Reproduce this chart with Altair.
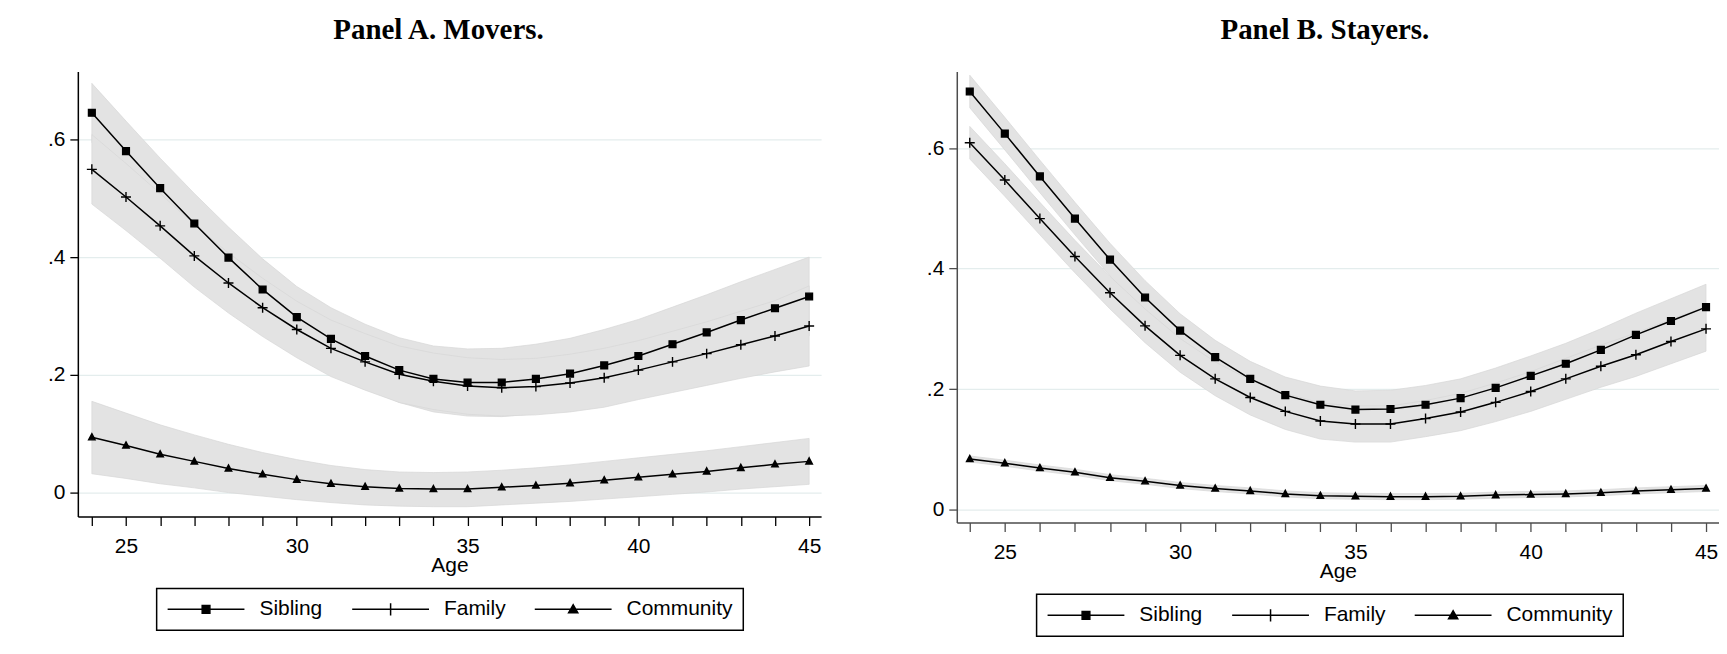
import altair as alt
import pandas as pd

AGES = list(range(24, 46))
SERIES = ["Sibling", "Family", "Community"]

# ---------------- Panel A. Movers ----------------
A_SIB = [0.645, 0.580, 0.517, 0.457, 0.399, 0.345, 0.298, 0.261, 0.232, 0.208, 0.193,
         0.187, 0.187, 0.193, 0.202, 0.216, 0.232, 0.252, 0.272, 0.293, 0.313, 0.333]
A_SIB_HI = [0.695, 0.631, 0.568, 0.508, 0.451, 0.397, 0.350, 0.314, 0.286, 0.263, 0.249,
            0.244, 0.245, 0.252, 0.262, 0.277, 0.294, 0.315, 0.336, 0.358, 0.379, 0.400]
A_SIB_LO = [0.595, 0.529, 0.466, 0.406, 0.347, 0.293, 0.246, 0.208, 0.178, 0.153, 0.137,
            0.130, 0.129, 0.134, 0.142, 0.155, 0.170, 0.189, 0.208, 0.228, 0.247, 0.266]
A_FAM = [0.549, 0.502, 0.453, 0.402, 0.356, 0.314, 0.277, 0.245, 0.222, 0.201, 0.189,
         0.181, 0.178, 0.180, 0.186, 0.195, 0.208, 0.222, 0.236, 0.251, 0.266, 0.283]
A_FAM_HI = [0.608, 0.559, 0.508, 0.455, 0.407, 0.364, 0.325, 0.293, 0.270, 0.249, 0.237,
            0.229, 0.226, 0.228, 0.235, 0.245, 0.258, 0.274, 0.290, 0.308, 0.326, 0.351]
A_FAM_LO = [0.490, 0.445, 0.398, 0.349, 0.305, 0.265, 0.229, 0.197, 0.174, 0.153, 0.141,
            0.133, 0.130, 0.132, 0.137, 0.145, 0.158, 0.170, 0.182, 0.194, 0.205, 0.215]
A_COM = [0.094, 0.080, 0.065, 0.053, 0.041, 0.031, 0.022, 0.015, 0.010, 0.007, 0.006,
         0.006, 0.009, 0.012, 0.016, 0.021, 0.026, 0.031, 0.036, 0.042, 0.048, 0.053]
A_COM_HI = [0.155, 0.135, 0.115, 0.098, 0.082, 0.068, 0.056, 0.046, 0.039, 0.035, 0.034,
            0.035, 0.038, 0.042, 0.047, 0.053, 0.059, 0.065, 0.071, 0.078, 0.085, 0.092]
A_COM_LO = [0.032, 0.024, 0.015, 0.008, 0.000, -0.006, -0.012, -0.017, -0.021, -0.023, -0.024,
            -0.024, -0.021, -0.018, -0.015, -0.011, -0.007, -0.003, 0.001, 0.006, 0.010, 0.014]

# ---------------- Panel B. Stayers ----------------
B_SIB = [0.694, 0.624, 0.553, 0.483, 0.415, 0.352, 0.297, 0.253, 0.217, 0.190, 0.174,
         0.166, 0.167, 0.174, 0.185, 0.202, 0.222, 0.242, 0.265, 0.290, 0.313, 0.336]
B_SIB_HI = [0.721, 0.651, 0.580, 0.510, 0.442, 0.380, 0.325, 0.281, 0.246, 0.220, 0.205,
            0.197, 0.198, 0.206, 0.217, 0.235, 0.255, 0.276, 0.300, 0.326, 0.350, 0.374]
B_SIB_LO = [0.667, 0.597, 0.526, 0.456, 0.388, 0.324, 0.269, 0.225, 0.188, 0.160, 0.143,
            0.135, 0.136, 0.142, 0.153, 0.169, 0.189, 0.208, 0.230, 0.254, 0.276, 0.298]
B_FAM = [0.609, 0.547, 0.483, 0.420, 0.360, 0.305, 0.256, 0.217, 0.186, 0.163, 0.147,
         0.142, 0.142, 0.151, 0.162, 0.178, 0.196, 0.217, 0.238, 0.257, 0.279, 0.300]
B_FAM_HI = [0.636, 0.574, 0.510, 0.447, 0.387, 0.333, 0.284, 0.245, 0.215, 0.193, 0.177,
            0.172, 0.172, 0.181, 0.193, 0.210, 0.229, 0.251, 0.273, 0.293, 0.316, 0.337]
B_FAM_LO = [0.582, 0.520, 0.456, 0.393, 0.333, 0.277, 0.228, 0.189, 0.157, 0.133, 0.117,
            0.112, 0.112, 0.121, 0.131, 0.146, 0.163, 0.183, 0.203, 0.221, 0.242, 0.263]
B_COM = [0.084, 0.077, 0.069, 0.062, 0.053, 0.047, 0.040, 0.035, 0.031, 0.026, 0.023,
         0.022, 0.0215, 0.0215, 0.022, 0.024, 0.025, 0.026, 0.028, 0.031, 0.033, 0.035]
B_COM_HI = [0.089, 0.082, 0.074, 0.067, 0.058, 0.052, 0.045, 0.040, 0.036, 0.031, 0.028,
            0.027, 0.0265, 0.0265, 0.027, 0.029, 0.030, 0.031, 0.033, 0.036, 0.038, 0.040]
B_COM_LO = [0.079, 0.072, 0.064, 0.057, 0.048, 0.042, 0.035, 0.030, 0.026, 0.021, 0.018,
            0.017, 0.0165, 0.0165, 0.017, 0.019, 0.020, 0.021, 0.023, 0.026, 0.028, 0.030]

Y_TICKS = [0, 0.2, 0.4, 0.6]

MARKER_PATHS = [
    "M-0.52,-0.52H0.52V0.52H-0.52Z",
    "M-0.77,0H0.77M0,-0.77V0.77",
    "M0,-0.55L0.5,0.4L-0.5,0.4Z",
]
LEGEND_PATHS = [
    "M-1,0H1M-0.1,-0.1H0.1V0.1H-0.1Z",
    "M-1,0H1M0,-0.16V0.16",
    "M-1,0H1M-0.12,0.09L0,-0.12L0.12,0.09Z",
]

FONT = "Liberation Sans"


def build_df(est, lo, hi):
    rows = []
    for s, e, l, h in zip(SERIES, est, lo, hi):
        for a, v, lv, hv in zip(AGES, e, l, h):
            rows.append({"age": a, "series": s, "est": v, "lo": lv, "hi": hv})
    return pd.DataFrame(rows)


def panel(df, title, title_dx, width, height, xdom, ydom,
          legend_x, legend_y, axis_color):
    xs = alt.Scale(domain=xdom, nice=False, zero=False)
    ys = alt.Scale(domain=ydom, nice=False, zero=False)
    xaxis = alt.Axis(
        values=AGES, labelExpr="datum.value % 5 == 0 ? datum.label : ''",
        title="Age", grid=False, domainColor=axis_color, domainWidth=1.5,
        tickColor=axis_color, tickWidth=1.3, tickSize=9, labelFont=FONT,
        labelFontSize=21, labelColor="black", labelPadding=10, labelFlush=False,
        titleFont=FONT, titleFontSize=21, titleFontWeight="normal",
        titleColor="black", titlePadding=-2,
    )
    yaxis = alt.Axis(
        values=Y_TICKS,
        labelExpr="datum.value == 0 ? '0' : '.' + format(datum.value * 10, '.0f')",
        title=None, grid=True, gridColor="#e4eded", gridWidth=1.2,
        domainColor=axis_color, domainWidth=1.5, tickColor=axis_color,
        tickWidth=1.3, tickSize=8, labelFont=FONT, labelFontSize=21,
        labelColor="black", labelPadding=5, minExtent=70, maxExtent=70,
    )
    base = alt.Chart(df)
    x = alt.X("age:Q", scale=xs, axis=xaxis)
    bands = base.mark_area(color="#e3e3e3", opacity=1, stroke="#d7d7d7",
                           strokeWidth=0.7).encode(
        x=x,
        y=alt.Y("lo:Q", scale=ys, axis=yaxis, stack=None),
        y2="hi:Q",
        detail="series:N",
    )
    lines = base.mark_line(color="black", strokeWidth=1.5).encode(
        x=x, y=alt.Y("est:Q", scale=ys), detail="series:N")
    markers = base.mark_point(filled=True, size=169, color="black",
                              stroke="black", strokeWidth=1.4,
                              opacity=1).encode(
        x=x, y=alt.Y("est:Q", scale=ys),
        shape=alt.Shape("series:N",
                        scale=alt.Scale(domain=SERIES, range=MARKER_PATHS),
                        legend=None),
    )
    legend_layer = base.mark_point(filled=True, size=0, color="black",
                                   fill="black", stroke="black",
                                   strokeWidth=1.5, opacity=0).encode(
        x=x, y=alt.Y("est:Q", scale=ys),
        shape=alt.Shape("series:N",
                        scale=alt.Scale(domain=SERIES, range=LEGEND_PATHS),
                        legend=alt.Legend(
                            title=None, orient="none", legendX=legend_x,
                            legendY=legend_y, direction="horizontal",
                            columns=3, symbolSize=5929, clipHeight=22,
                            symbolStrokeWidth=1.5, symbolOpacity=1,
                            labelFont=FONT, labelFontSize=21,
                            labelColor="black", labelOffset=14,
                            columnPadding=28, padding=10,
                            strokeColor="black", fillColor="white")),
    )
    return alt.layer(bands, lines, markers, legend_layer).resolve_scale(
        shape="independent"
    ).properties(
        width=width, height=height,
        title=alt.TitleParams(text=title, font="Liberation Serif", fontSize=29,
                              fontWeight="bold", color="black",
                              anchor="middle", frame="group",
                              offset=27, dx=title_dx),
    )


df_a = build_df([A_SIB, A_FAM, A_COM], [A_SIB_LO, A_FAM_LO, A_COM_LO],
                [A_SIB_HI, A_FAM_HI, A_COM_HI])
df_b = build_df([B_SIB, B_FAM, B_COM], [B_SIB_LO, B_FAM_LO, B_COM_LO],
                [B_SIB_HI, B_FAM_HI, B_COM_HI])

panel_a = panel(df_a, "Panel A. Movers.", -11, 745, 446,
                [23.59, 45.35], [-0.0407, 0.715], 79, 518, "black")
panel_b = panel(df_b, "Panel B. Stayers.", -13, 764, 452,
                [23.63, 45.37], [-0.0215, 0.727], 80, 524, "#4d4d4d")

chart = alt.hconcat(panel_a, panel_b, spacing=66).properties(
    padding={"left": 0, "top": 7, "right": 0, "bottom": 0}
).configure_view(stroke=None).configure_legend(strokeWidth=1.5)

chart.save("out.html", embed_options={"renderer": "svg", "actions": False})
